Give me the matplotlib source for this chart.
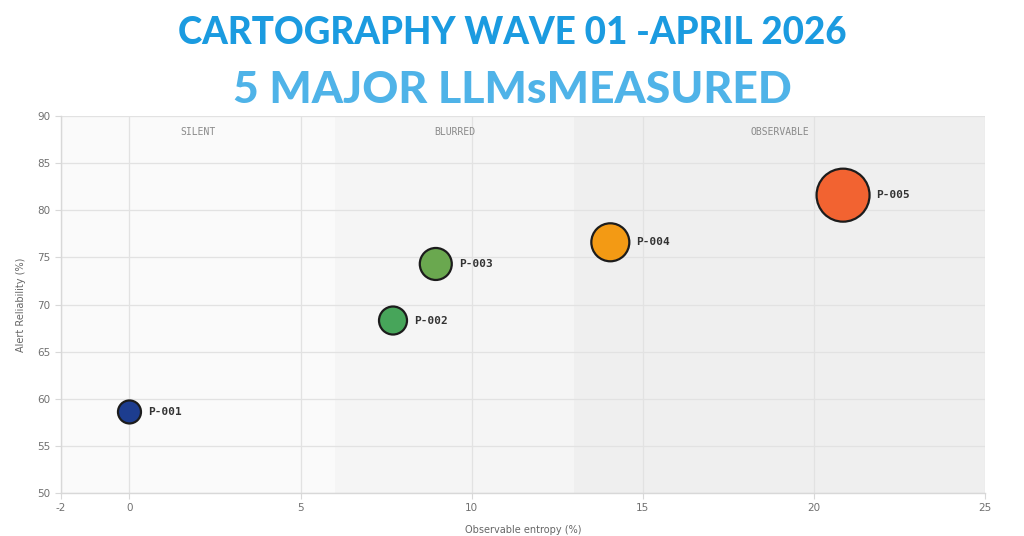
import matplotlib
matplotlib.use("Agg")
import matplotlib.pyplot as plt

plt.rcParams["axes.unicode_minus"] = False

# data
labels = ["P-001", "P-002", "P-003", "P-004", "P-005"]
entropy = [0.0, 7.7, 8.95, 14.05, 20.85]
reliability = [58.6, 68.3, 74.3, 76.6, 81.6]
bubble_radius = [11.5, 14.0, 16.0, 19.0, 26.5]  # px
colors = ["#1d3d8f", "#47a55a", "#6aa84f", "#f39a14", "#f26331"]

zone_names = ["SILENT", "BLURRED", "OBSERVABLE"]
zone_edges = [-2, 6, 13, 25]
zone_colors = ["#fafafa", "#f5f5f5", "#efefef"]

xticks = [-2, 0, 5, 10, 15, 20, 25]
yticks = [50, 55, 60, 65, 70, 75, 80, 85, 90]

DPI = 100
fig = plt.figure(figsize=(10.24, 5.36), dpi=DPI)
ax = fig.add_axes([0.0596, 0.0802, 0.9024, 0.7034])

# zones
for name, x0, x1, c in zip(zone_names, zone_edges[:-1], zone_edges[1:], zone_colors):
    ax.axvspan(x0, x1, color=c, zorder=0, lw=0)
    ax.text((x0 + x1) / 2, 88.3, name, ha="center", va="center",
            fontsize=7, color="#8a8a8a", family="DejaVu Sans Mono")

ax.set_xlim(-2, 25)
ax.set_ylim(50, 90)
ax.set_xticks(xticks)
ax.set_yticks(yticks)
ax.grid(True, color="#e2e2e2", lw=0.9, zorder=1)
ax.set_axisbelow(True)

for s in ["top", "right"]:
    ax.spines[s].set_visible(False)
for s in ["left", "bottom"]:
    ax.spines[s].set_color("#d8d8d8")
    ax.spines[s].set_linewidth(1)
ax.tick_params(colors="#d8d8d8", labelcolor="#707070", labelsize=7.5, length=4, width=0.8)

px2pt = 72.0 / DPI
sizes = [(2 * r * px2pt) ** 2 for r in bubble_radius]
ax.scatter(entropy, reliability, s=sizes, c=colors, edgecolors="#1c1c1c",
           linewidths=1.6, zorder=3)

for lab, x, y, r in zip(labels, entropy, reliability, bubble_radius):
    ax.annotate(lab, (x, y), xytext=((r + 7) * px2pt, 0), textcoords="offset points",
                ha="left", va="center", fontsize=8, fontweight="bold",
                color="#333333", family="DejaVu Sans Mono", zorder=4)

ax.set_xlabel("Observable entropy (%)", fontsize=7, color="#666666", labelpad=8)
ax.set_ylabel("Alert Reliability (%)", fontsize=7, color="#666666", labelpad=8)

fig.text(0.5, 0.938, "CARTOGRAPHY WAVE 01 -APRIL 2026", ha="center", va="center",
         fontsize=26.5, fontweight="black", color="#1b9be0", family="Lato")
fig.text(0.5, 0.832, "5 MAJOR LLMsMEASURED", ha="center", va="center",
         fontsize=32, fontweight="black", color="#4fb3e8", family="Lato")

fig.savefig("out.png", dpi=DPI, facecolor="white")
